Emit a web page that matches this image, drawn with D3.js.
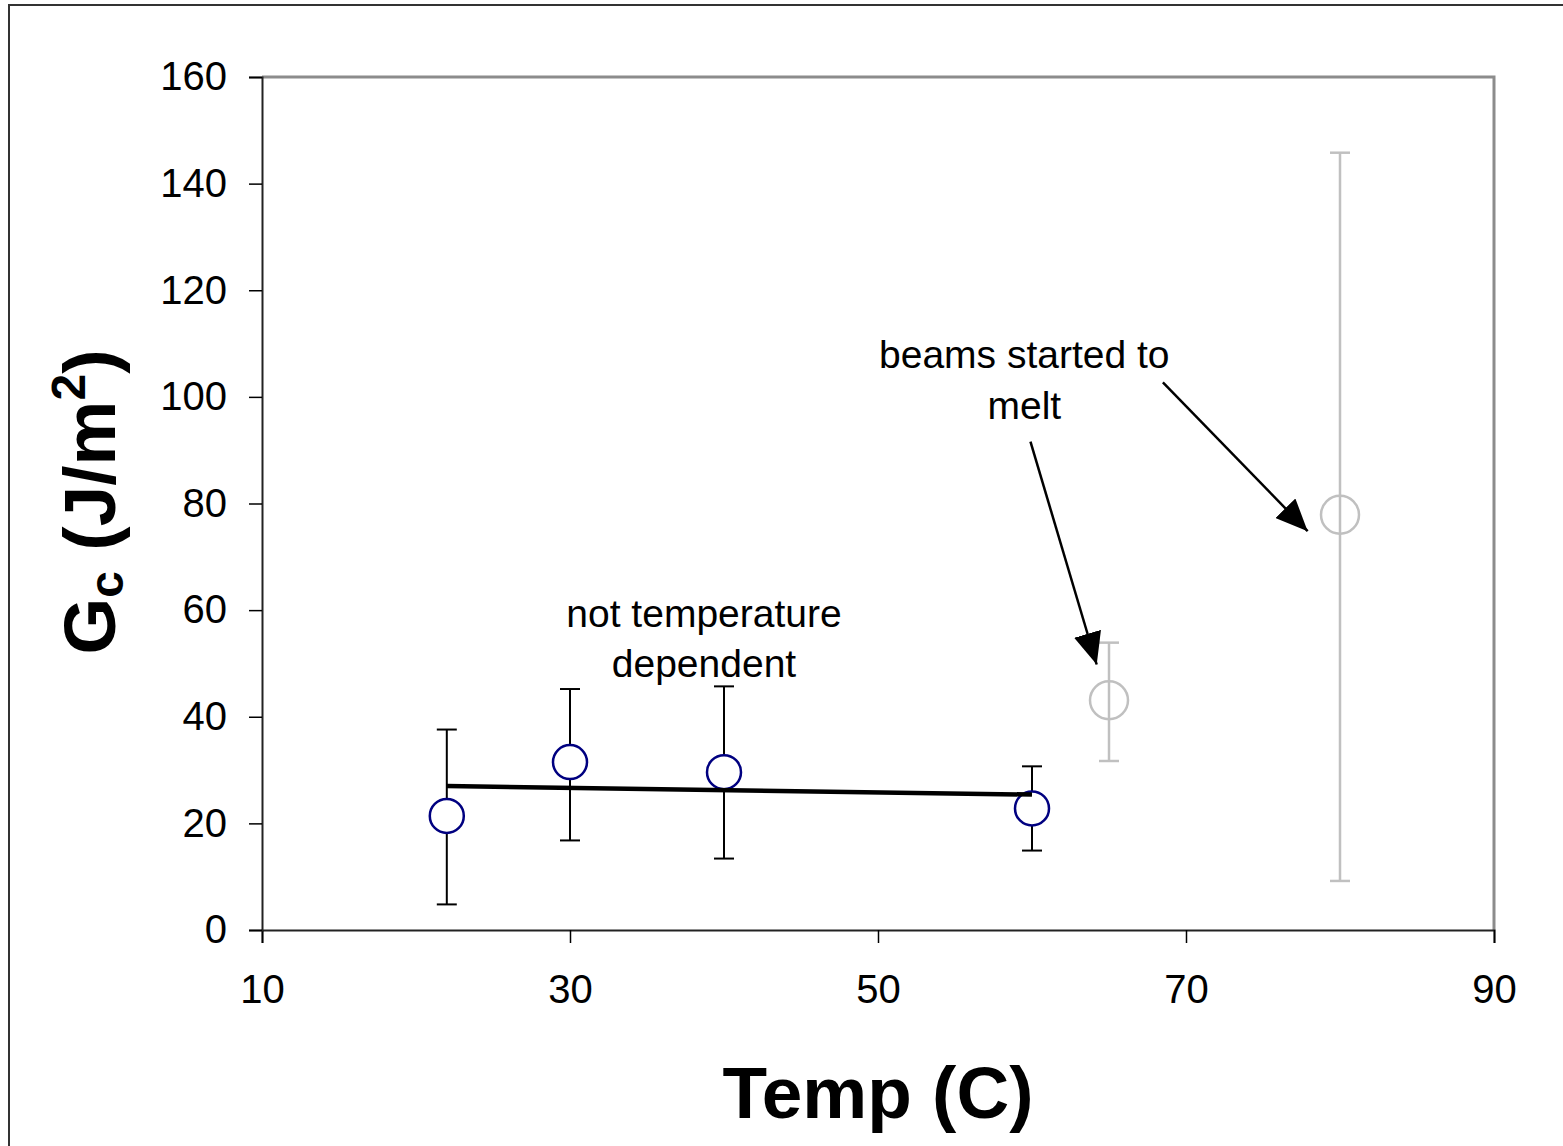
<!DOCTYPE html>
<meta charset="utf-8">
<style>
body { margin: 0; background: #fff; }
text { font-family: "Liberation Sans", Arial, sans-serif; fill: #000; }
.tick text { font-size: 40px; }
.note { font-size: 39px; }
.title { font-size: 73px; font-weight: bold; }
</style>
<body>
<script src="https://d3js.org/d3.v7.min.js"></script>
<script>

// measured points (blue = normal, gray = beams melting)
var temps = [22, 30, 40, 60];
var gc = [21.4, 31.5, 29.6, 22.8];
var gcLow = [4.8, 16.8, 13.4, 14.9];
var gcHigh = [37.6, 45.2, 45.7, 30.7];

var meltTemps = [65, 80];
var meltGc = [43.1, 77.9];
var meltLow = [31.7, 9.2];
var meltHigh = [53.9, 145.8];

// linear trend line over the blue points
var trendTemps = [22, 60];
var trendGc = [27.0, 25.4];

var xTicks = [10, 30, 50, 70, 90];
var yTicks = [0, 20, 40, 60, 80, 100, 120, 140, 160];

// dimensions
var W = 1563, H = 1146;
var margin = {top: 77, right: 69, bottom: 216, left: 262},
    width = W - margin.left - margin.right,
    height = H - margin.top - margin.bottom;

var x = d3.scaleLinear().domain([10, 90]).range([0, width]);
var y = d3.scaleLinear().domain([0, 160]).range([height, 0]);

var svg = d3.select("body").append("svg")
    .attr("width", W)
    .attr("height", H);

// outer chart frame
svg.append("rect")
    .attr("x", 9).attr("y", 5)
    .attr("width", W + 20).attr("height", H + 20)
    .attr("fill", "none")
    .attr("stroke", "#333")
    .attr("stroke-width", 2);

var defs = svg.append("defs");
defs.append("marker")
    .attr("id", "head")
    .attr("markerUnits", "userSpaceOnUse")
    .attr("viewBox", "0 0 32 28")
    .attr("refX", 32).attr("refY", 14)
    .attr("markerWidth", 32).attr("markerHeight", 28)
    .attr("orient", "auto")
  .append("path")
    .attr("d", "M0,0 L32,14 L0,28 Z")
    .attr("fill", "#000");

var g = svg.append("g")
    .attr("transform", "translate(" + margin.left + "," + margin.top + ")");

// plot area border (top/right gray)
g.append("path")
    .attr("d", "M0,0 H" + width + " V" + height)
    .attr("fill", "none")
    .attr("stroke", "#8c8c8c")
    .attr("stroke-width", 3);

// axes
var xAxis = g.append("g")
    .attr("transform", "translate(0," + height + ")")
    .call(d3.axisBottom(x).tickValues(xTicks).tickSize(13).tickPadding(32));
var yAxis = g.append("g")
    .call(d3.axisLeft(y).tickValues(yTicks).tickSize(13).tickPadding(22));

[xAxis, yAxis].forEach(function(a) {
  a.select(".domain").attr("stroke", "#222").attr("stroke-width", 2);
  a.selectAll(".tick line").attr("stroke", "#000").attr("stroke-width", 1.5);
  a.selectAll(".tick text").attr("font-family", null).attr("font-size", null);
});
xAxis.selectAll(".tick text").attr("dy", "0.71em");

// error bars
function errorBars(xs, lo, hi, color, sw) {
  var eb = g.append("g").attr("stroke", color).attr("stroke-width", sw);
  xs.forEach(function(t, i) {
    eb.append("line")
        .attr("x1", x(t)).attr("x2", x(t))
        .attr("y1", y(lo[i])).attr("y2", y(hi[i]));
    [lo[i], hi[i]].forEach(function(v) {
      eb.append("line")
          .attr("x1", x(t) - 10).attr("x2", x(t) + 10)
          .attr("y1", y(v)).attr("y2", y(v));
    });
  });
}
errorBars(temps, gcLow, gcHigh, "#000", 2);
errorBars(meltTemps, meltLow, meltHigh, "#c0c0c0", 2.5);

// markers
g.selectAll(".pt")
    .data(temps)
  .enter().append("circle")
    .attr("class", "pt")
    .attr("cx", function(d) { return x(d); })
    .attr("cy", function(d, i) { return y(gc[i]); })
    .attr("r", 17)
    .attr("fill", "#fff")
    .attr("stroke", "#000080")
    .attr("stroke-width", 2.5);

g.selectAll(".melt")
    .data(meltTemps)
  .enter().append("circle")
    .attr("class", "melt")
    .attr("cx", function(d) { return x(d); })
    .attr("cy", function(d, i) { return y(meltGc[i]); })
    .attr("r", 19)
    .attr("fill", "none")
    .attr("stroke", "#c0c0c0")
    .attr("stroke-width", 2.5);

// trend line
var line = d3.line()
    .x(function(d) { return x(d); })
    .y(function(d, i) { return y(trendGc[i]); });
g.append("path")
    .datum(trendTemps)
    .attr("d", line)
    .attr("fill", "none")
    .attr("stroke", "#000")
    .attr("stroke-width", 4.5);

// annotations
var arrows = [
  {from: [59.9, 91.6], to: [64.2, 49.8]},
  {from: [68.5, 102.7], to: [77.9, 74.8]}
];
arrows.forEach(function(a) {
  g.append("line")
      .attr("x1", x(a.from[0])).attr("y1", y(a.from[1]))
      .attr("x2", x(a.to[0])).attr("y2", y(a.to[1]))
      .attr("stroke", "#000")
      .attr("stroke-width", 2.5)
      .attr("marker-end", "url(#head)");
});

var notes = [
  {t: 59.5, v: 105.5, text: "beams started to"},
  {t: 59.5, v: 95.9, text: "melt"},
  {t: 38.7, v: 56.8, text: "not temperature"},
  {t: 38.7, v: 47.4, text: "dependent"}
];
g.selectAll(".note")
    .data(notes)
  .enter().append("text")
    .attr("class", "note")
    .attr("x", function(d) { return x(d.t); })
    .attr("y", function(d) { return y(d.v); })
    .attr("text-anchor", "middle")
    .text(function(d) { return d.text; });

// axis titles
svg.append("text")
    .attr("class", "title")
    .attr("x", 878)
    .attr("y", 1118)
    .attr("text-anchor", "middle")
    .text("Temp (C)");

var yt = svg.append("text")
    .attr("class", "title")
    .attr("transform", "translate(115,502) rotate(-90)")
    .attr("text-anchor", "middle");
yt.append("tspan").text("G");
yt.append("tspan").attr("font-size", "48px").attr("dy", 8).text("c");
yt.append("tspan").attr("dy", -8).text(" (J/m");
yt.append("tspan").attr("font-size", "48px").attr("dy", -30).text("2");
yt.append("tspan").attr("dy", 30).text(")");

</script>
</body>
